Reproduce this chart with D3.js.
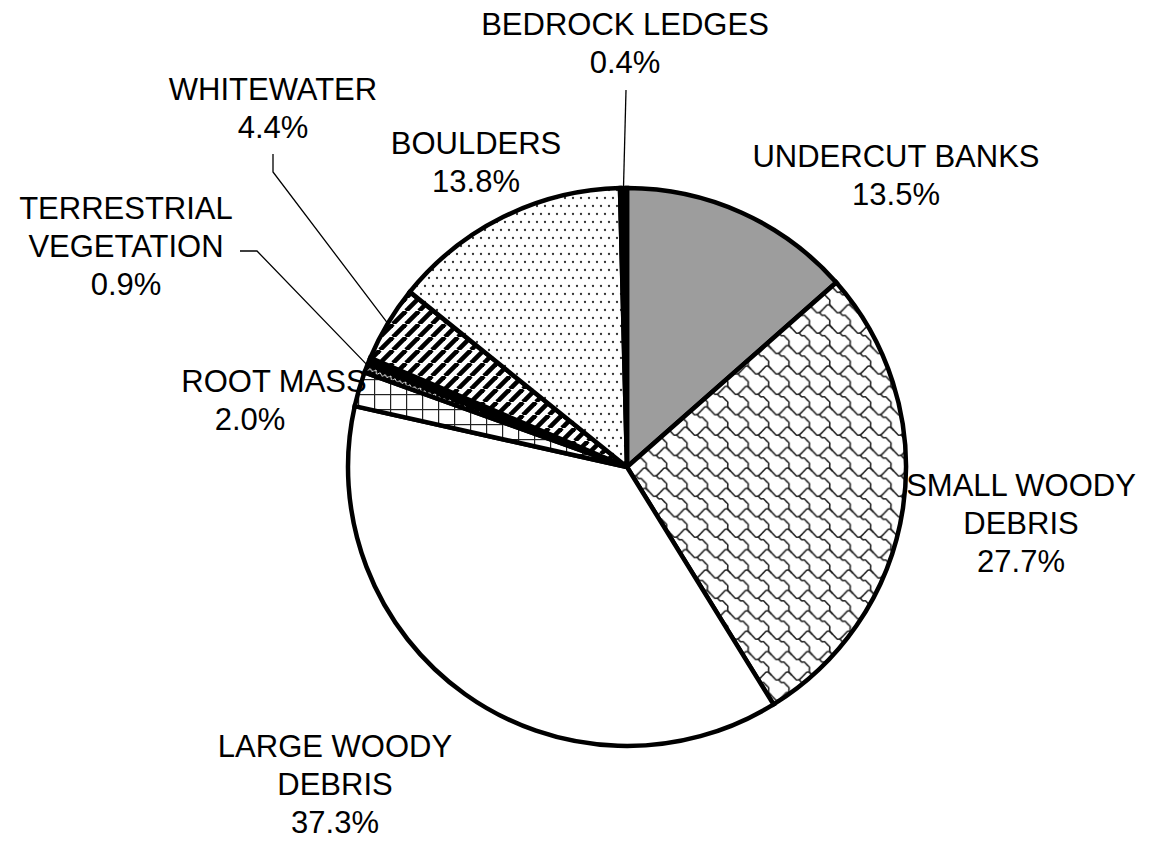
<!DOCTYPE html>
<html>
<head>
<meta charset="utf-8">
<script src="https://cdn.jsdelivr.net/npm/d3@7"></script>
<style>
  html, body { margin: 0; padding: 0; background: #fff; }
  svg { display: block; }
  text { font-family: "Liberation Sans", Arial, sans-serif; fill: #000; }
</style>
</head>
<body>
<svg id="chart" width="1161" height="841"></svg>
<script>
// Habitat cover types, clockwise from 12 o'clock
const categories = [
  "UNDERCUT BANKS",
  "SMALL WOODY DEBRIS",
  "LARGE WOODY DEBRIS",
  "ROOT MASS",
  "TERRESTRIAL VEGETATION",
  "WHITEWATER",
  "BOULDERS",
  "BEDROCK LEDGES"
];
const percentages = [13.5, 27.7, 37.3, 2.0, 0.9, 4.4, 13.8, 0.4];
// How each label is broken into lines
const labelLines = [
  ["UNDERCUT BANKS"],
  ["SMALL WOODY", "DEBRIS"],
  ["LARGE WOODY", "DEBRIS"],
  ["ROOT MASS"],
  ["TERRESTRIAL", "VEGETATION"],
  ["WHITEWATER"],
  ["BOULDERS"],
  ["BEDROCK LEDGES"]
];

const W = 1161, H = 841;
const cx = 627, cy = 467, R = 279;
const fontSize = 31, lineGap = 38;

// Label anchors: centre x and first baseline y; px = centre of the value line
// when it differs; leader = shape of the connector (if any)
const labelLayout = [
  { x: 896,  y: 167 },
  { x: 1021, y: 496 },
  { x: 335,  y: 757 },
  { x: 274,  y: 392, px: 250 },
  { x: 126,  y: 219, leader: "side", lx: 240, ly: 251 },
  { x: 273,  y: 100, leader: "below", lx: 273, ly: 154 },
  { x: 476,  y: 154 },
  { x: 625,  y: 35,  leader: "straight", lx: 626, ly: 90 }
];

const svg = d3.select("#chart");
const defs = svg.append("defs");

// --- fill patterns ---
// shingle pattern (8x8 cell, scaled up)
{
  const p = defs.append("pattern").attr("id", "pShingle")
    .attr("patternUnits", "userSpaceOnUse").attr("width", 8).attr("height", 8)
    .attr("patternTransform", "scale(2.55)");
  p.append("rect").attr("width", 8).attr("height", 8).attr("fill", "#fff");
  const a = [[-0.5,0.5],[0.5,1.5],[1.5,2.5],[2.5,3.5],[3.5,3.5],[4.5,4.5],[5.5,4.5],[6.5,5.5],[7.5,6.5],[7.5,7.5],[7.5,8.5]];
  const b = [[3.5,3.5],[4.5,2.5],[5.5,1.5],[6.5,0.5],[7.5,0.5],[8.5,1.5]];
  const line = d3.line().curve(d3.curveCatmullRom.alpha(0.5));
  for (const dx of [-8, 0, 8]) for (const dy of [-8, 0, 8]) {
    for (const pts of [a, b]) {
      p.append("path")
        .attr("d", line(pts.map(([x, y]) => [x + dx, y + dy])))
        .attr("fill", "none").attr("stroke", "#222").attr("stroke-width", 0.62)
        .attr("stroke-linejoin", "round").attr("stroke-linecap", "round");
    }
  }
}
// sparse dots
{
  const p = defs.append("pattern").attr("id", "pDots")
    .attr("patternUnits", "userSpaceOnUse").attr("width", 8).attr("height", 16);
  p.append("rect").attr("width", 8).attr("height", 16).attr("fill", "#fff");
  p.append("circle").attr("cx", 2).attr("cy", 3).attr("r", 1.15).attr("fill", "#333");
  p.append("circle").attr("cx", 6).attr("cy", 11).attr("r", 1.15).attr("fill", "#333");
}
// wide diagonal stripes
{
  const s = 13;
  const p = defs.append("pattern").attr("id", "pStripes")
    .attr("patternUnits", "userSpaceOnUse").attr("width", s).attr("height", s);
  p.append("rect").attr("width", s).attr("height", s).attr("fill", "#fff");
  for (const o of [-s, 0, s]) {
    p.append("line").attr("x1", o).attr("y1", s).attr("x2", o + s).attr("y2", 0)
      .attr("stroke", "#000").attr("stroke-width", 4.6);
  }
}
// open grid
{
  const p = defs.append("pattern").attr("id", "pGrid")
    .attr("patternUnits", "userSpaceOnUse").attr("width", 16).attr("height", 15)
    .attr("x", 3).attr("y", 2);
  p.append("rect").attr("width", 16).attr("height", 15).attr("fill", "#fff");
  p.append("line").attr("x1", 0).attr("y1", 0).attr("x2", 16).attr("y2", 0)
    .attr("stroke", "#222").attr("stroke-width", 2.4);
  p.append("line").attr("x1", 0).attr("y1", 0).attr("x2", 0).attr("y2", 15)
    .attr("stroke", "#222").attr("stroke-width", 2.4);
}
// dark ground with a pale wavy line
{
  const p = defs.append("pattern").attr("id", "pWave")
    .attr("patternUnits", "userSpaceOnUse").attr("width", 16).attr("height", 14)
    .attr("patternTransform", "rotate(22)");
  p.append("rect").attr("width", 16).attr("height", 14).attr("fill", "#000");
  p.append("path").attr("d", "M0,7 L3,4 L5,8 L8,5 L11,8 L13,5 L16,7")
    .attr("fill", "none").attr("stroke", "#fff").attr("stroke-width", 1);
}

const fills = ["#9d9d9d", "url(#pShingle)", "#ffffff", "url(#pGrid)",
               "url(#pWave)", "url(#pStripes)", "url(#pDots)", "#000000"];

const pie = d3.pie().sort(null).value(d => d)
  .startAngle(0).endAngle(2 * Math.PI);
const arcs = pie(percentages);
const arc = d3.arc().innerRadius(0).outerRadius(R);

const g = svg.append("g").attr("transform", `translate(${cx},${cy})`);

g.selectAll("path.slice").data(arcs).join("path")
  .attr("class", "slice")
  .attr("d", arc)
  .attr("fill", (d, i) => fills[i])
  .attr("stroke", "#000").attr("stroke-width", 4.5)
  .attr("stroke-linejoin", "miter");

// leader lines run from the label to the rim at the slice's mid-angle
const rimPoint = d => {
  const a = (d.startAngle + d.endAngle) / 2;
  return [cx + R * Math.sin(a), cy - R * Math.cos(a)];
};
const leaders = svg.append("g");
arcs.forEach((d, i) => {
  const L = labelLayout[i];
  if (!L.leader) return;
  const [px, py] = rimPoint(d);
  let pts;
  if (L.leader === "side") pts = [[L.lx, L.ly], [L.lx + 17, L.ly], [px, py]];
  else if (L.leader === "below") pts = [[L.lx, L.ly], [L.lx, L.ly + 18], [px, py]];
  else pts = [[L.lx, L.ly], [px, py]];
  leaders.append("path").attr("d", d3.line()(pts))
    .attr("fill", "none").attr("stroke", "#000").attr("stroke-width", 1.3);
});

// labels: category name lines, then the percentage
const labels = svg.append("g");
arcs.forEach((d, i) => {
  const L = labelLayout[i];
  const lines = [...labelLines[i], d3.format(".1f")(d.data) + "%"];
  const t = labels.append("text")
    .attr("text-anchor", "middle")
    .attr("font-size", fontSize);
  lines.forEach((s, k) => {
    const isValue = k === lines.length - 1;
    t.append("tspan")
      .attr("x", isValue && L.px != null ? L.px : L.x)
      .attr("y", L.y + k * lineGap).text(s);
  });
});
</script>
</body>
</html>
